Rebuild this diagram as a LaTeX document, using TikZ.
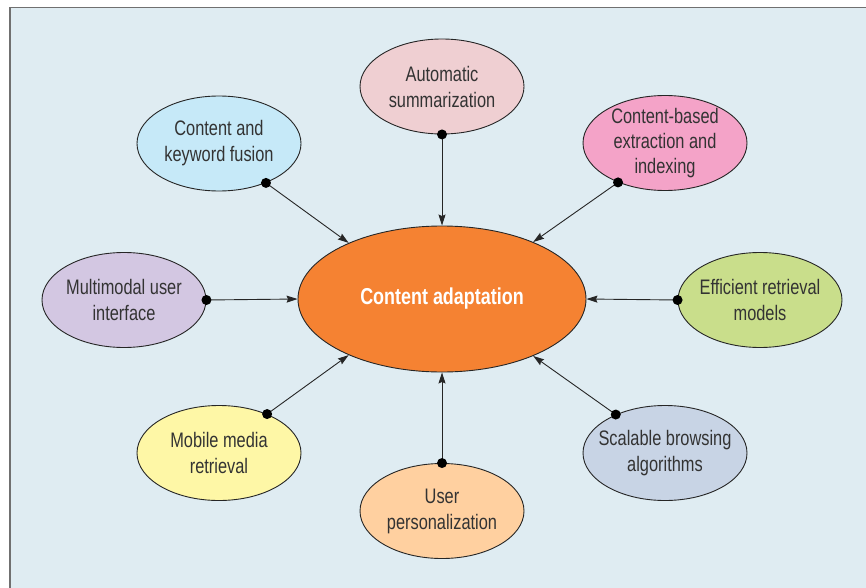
\documentclass[tikz,border=0pt]{standalone}
\usepackage{fontspec}
\setmainfont[FakeStretch=0.78]{Liberation Sans}
\usetikzlibrary{shapes.geometric,arrows.meta}
\definecolor{bgc}{HTML}{DFECF2}
\definecolor{framec}{HTML}{707070}
\definecolor{txtc}{HTML}{333333}
\definecolor{cOrange}{HTML}{F58232}
\definecolor{cAuto}{HTML}{EFCFD2}
\definecolor{cCbe}{HTML}{F4A3C8}
\definecolor{cFusion}{HTML}{C6E9F8}
\definecolor{cMulti}{HTML}{D3C7E2}
\definecolor{cEff}{HTML}{C9DE8B}
\definecolor{cMobile}{HTML}{FEF7A6}
\definecolor{cUser}{HTML}{FFD0A0}
\definecolor{cScal}{HTML}{C8D4E5}
\tikzset{
  topic/.style={ellipse, draw=black!85, line width=0.9pt, minimum width=164pt, minimum height=95pt,
    inner xsep=-40pt, inner ysep=-30pt, align=center, text=txtc, font=\fontsize{21}{26}\selectfont},
  hub/.style={ellipse, draw=black!85, line width=0.9pt, fill=cOrange, minimum width=288pt, minimum height=146pt,
    inner sep=0pt, text=white, font=\fontsize{23}{26}\selectfont\bfseries},
  conn/.style={draw=black!85, line width=0.9pt, -{Stealth[length=11pt,width=7pt,inset=1.5pt]}},
  dotc/.style={fill=black}
}
\begin{document}
\begin{tikzpicture}[x=1pt,y=-1pt]
\useasboundingbox (0,0) rectangle (866,588);
\fill[white] (0,0) rectangle (866,588);
\filldraw[fill=bgc, draw=framec, line width=1.5pt] (10,7.5) rectangle (880,600);

\node[hub] (hubn) at (442,299) {Content adaptation};

\node[topic, fill=cAuto] (auto) at (442,86.5) {Automatic\\summarization};
\node[topic, fill=cCbe, font=\fontsize{21}{25}\selectfont] (cbe) at (665,143) {Content-based\\extraction and\\indexing};
\node[topic, fill=cFusion] (fusion) at (219,143.5) {Content and\\keyword fusion};
\node[topic, fill=cMulti] (multi) at (124,300) {Multimodal user\\interface};
\node[topic, fill=cEff] (eff) at (760,300) {Efficient retrieval\\models};
\node[topic, fill=cMobile] (mobile) at (219,453) {Mobile media\\retrieval};
\node[topic, fill=cScal] (scal) at (665,453) {Scalable browsing\\algorithms};
\node[topic, fill=cUser] (user) at (442,511) {User\\personalization};

\draw[conn] (auto.south) -- (hubn.north);
\draw[conn] (cbe.220) -- (hubn.32);
\draw[conn] (fusion.-40) -- (hubn.149);
\draw[conn] (multi.east) -- (hubn.west);
\draw[conn] (eff.west) -- (hubn.east);
\draw[conn] (mobile.39) -- (hubn.211);
\draw[conn] (scal.142) -- (hubn.328);
\draw[conn] (user.north) -- (hubn.south);

\foreach \p in {auto.south, cbe.220, fusion.-40, multi.east, eff.west, mobile.39, scal.142, user.north}
  \fill (\p) circle (5);
\end{tikzpicture}
\end{document}
